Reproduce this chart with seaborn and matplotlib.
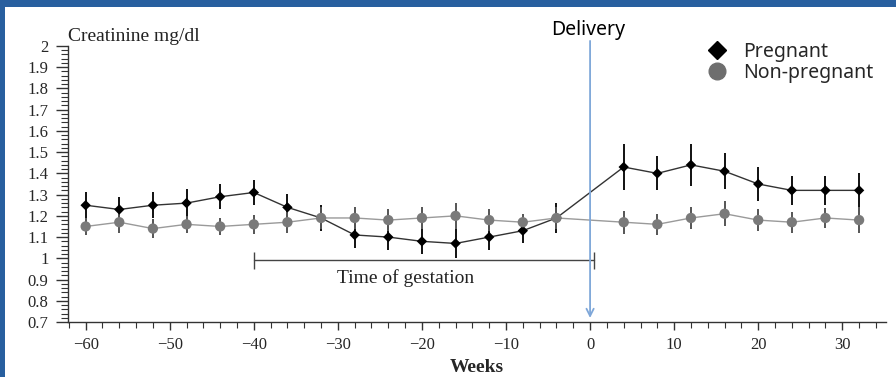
import numpy as np
import pandas as pd
import matplotlib
matplotlib.use("Agg")
import matplotlib.pyplot as plt
from matplotlib.lines import Line2D
from matplotlib.patches import Rectangle
from matplotlib.ticker import MultipleLocator, FuncFormatter
import seaborn as sns

# ---- data ----
weeks = [-60, -56, -52, -48, -44, -40, -36, -32, -28, -24, -20, -16, -12, -8, -4,
         4, 8, 12, 16, 20, 24, 28, 32]
pregnant = [1.25, 1.23, 1.25, 1.26, 1.29, 1.31, 1.24, 1.19, 1.11, 1.10, 1.08, 1.07, 1.10, 1.13, 1.19,
            1.43, 1.40, 1.44, 1.41, 1.35, 1.32, 1.32, 1.32]
pregnant_err = [0.06, 0.06, 0.06, 0.065, 0.06, 0.06, 0.065, 0.06, 0.06, 0.06, 0.06, 0.07, 0.06, 0.06, 0.07,
                0.11, 0.08, 0.10, 0.085, 0.08, 0.07, 0.07, 0.08]
non_pregnant = [1.15, 1.17, 1.14, 1.16, 1.15, 1.16, 1.17, 1.19, 1.19, 1.18, 1.19, 1.20, 1.18, 1.17, 1.19,
                1.17, 1.16, 1.19, 1.21, 1.18, 1.17, 1.19, 1.18]
non_pregnant_err = [0.04, 0.05, 0.045, 0.04, 0.04, 0.045, 0.05, 0.05, 0.05, 0.05, 0.05, 0.06, 0.05, 0.04, 0.05,
                    0.055, 0.05, 0.05, 0.06, 0.05, 0.05, 0.045, 0.06]
series_names = ["Pregnant", "Non-pregnant"]
gestation = [-40, 0.5]
gestation_level = 0.99
delivery_week = 0
y_label = "Creatinine mg/dl"
x_label = "Weeks"

df = pd.DataFrame({
    "week": weeks * 2,
    "value": pregnant + non_pregnant,
    "err": pregnant_err + non_pregnant_err,
    "group": [series_names[0]] * len(weeks) + [series_names[1]] * len(weeks),
})

sns.set_style("ticks")
plt.rcParams["font.family"] = ["Liberation Serif", "DejaVu Serif"]

fig = plt.figure(figsize=(8.96, 3.77), dpi=100)
fig.patch.set_facecolor("white")
ax = fig.add_axes([68 / 896, 1 - 322 / 377, (886 - 68) / 896, (322 - 46) / 377])

line_colors = {"Pregnant": "#333333", "Non-pregnant": "#9a9a9a"}
marker_colors = {"Pregnant": "#000000", "Non-pregnant": "#7a7a7a"}
err_colors = {"Pregnant": "#111111", "Non-pregnant": "#555555"}
markers = {"Pregnant": "D", "Non-pregnant": "o"}
sizes = {"Pregnant": 28, "Non-pregnant": 55}

for name in series_names:
    sub = df[df["group"] == name]
    sns.lineplot(data=sub, x="week", y="value", color=line_colors[name], lw=1.0,
                 ax=ax, legend=False, errorbar=None, zorder=2)
    ax.errorbar(sub["week"], sub["value"], yerr=sub["err"], fmt="none",
                ecolor=err_colors[name], elinewidth=1.4, capsize=0, zorder=3)
    sns.scatterplot(data=sub, x="week", y="value", marker=markers[name],
                    color=marker_colors[name], s=sizes[name], edgecolor="none",
                    ax=ax, legend=False, zorder=4)

# gestation bracket
ax.plot(gestation, [gestation_level, gestation_level], color="#444444", lw=1.0)
ax.vlines(gestation, gestation_level - 0.04, gestation_level + 0.04, color="#444444", lw=1.0)
ax.text(-22, 0.905, "Time of gestation", ha="center", va="center", fontsize=14, color="#222222")

# delivery arrow
ax.annotate("", xy=(delivery_week, 0.719), xytext=(delivery_week, 2.024),
            xycoords="data", annotation_clip=False,
            arrowprops=dict(arrowstyle="->", color="#7FA7D9", lw=1.3,
                            shrinkA=0, shrinkB=0, mutation_scale=13))
ax.text(delivery_week - 0.2, 2.052, "Delivery", ha="center", va="baseline",
        fontsize=14, family=["Noto Sans", "DejaVu Sans"], color="black", clip_on=False)

# axes
ax.set_xlim(-62.1, 35.2)
ax.set_ylim(0.7, 2.0)
ax.xaxis.set_major_locator(MultipleLocator(10))
ax.xaxis.set_minor_locator(MultipleLocator(2))
ax.yaxis.set_major_locator(MultipleLocator(0.1))
ax.yaxis.set_minor_locator(MultipleLocator(0.02))
ax.yaxis.set_major_formatter(FuncFormatter(lambda v, p: f"{round(v, 2):g}"))
ax.tick_params(axis="y", which="major", length=9, width=1.0, pad=5, labelsize=12, color="#333333")
ax.tick_params(axis="y", which="minor", length=5, width=0.8, color="#333333")
ax.tick_params(axis="x", which="major", length=6, width=1.0, pad=5, labelsize=12, color="#333333")
ax.tick_params(axis="x", which="minor", length=4, width=0.8, color="#333333")
for s in ["top", "right"]:
    ax.spines[s].set_visible(False)
for s in ["left", "bottom"]:
    ax.spines[s].set_color("#333333")
    ax.spines[s].set_linewidth(1.0)
ax.set_ylabel("")
ax.set_xlabel(x_label, fontsize=14, fontweight="bold", va="top")
ax.xaxis.set_label_coords(0.5, -0.135)
ax.set_title(y_label, loc="left", fontsize=14, pad=3.5, color="#222222")

# legend
handles = [
    Line2D([], [], marker="D", color="black", linestyle="none", markersize=9),
    Line2D([], [], marker="o", color="#6e6e6e", linestyle="none", markersize=12),
]
leg = ax.legend(handles, series_names, loc="upper left",
                bbox_to_anchor=(693 / 896, 1 - 32 / 377), bbox_transform=fig.transFigure,
                frameon=False, borderpad=0, handlelength=1.5, handletextpad=0.6,
                labelspacing=0.05, prop={"family": ["Noto Sans", "DejaVu Sans"], "size": 14})

# slide frame (blue border on top and left)
fig.patches.append(Rectangle((0, 1 - 7 / 377), 1, 7 / 377, transform=fig.transFigure,
                             facecolor="#285F9F", edgecolor="none", zorder=10))
fig.patches.append(Rectangle((0, 0), 5 / 896, 1, transform=fig.transFigure,
                             facecolor="#285F9F", edgecolor="none", zorder=10))

fig.savefig("out.png", dpi=100)
